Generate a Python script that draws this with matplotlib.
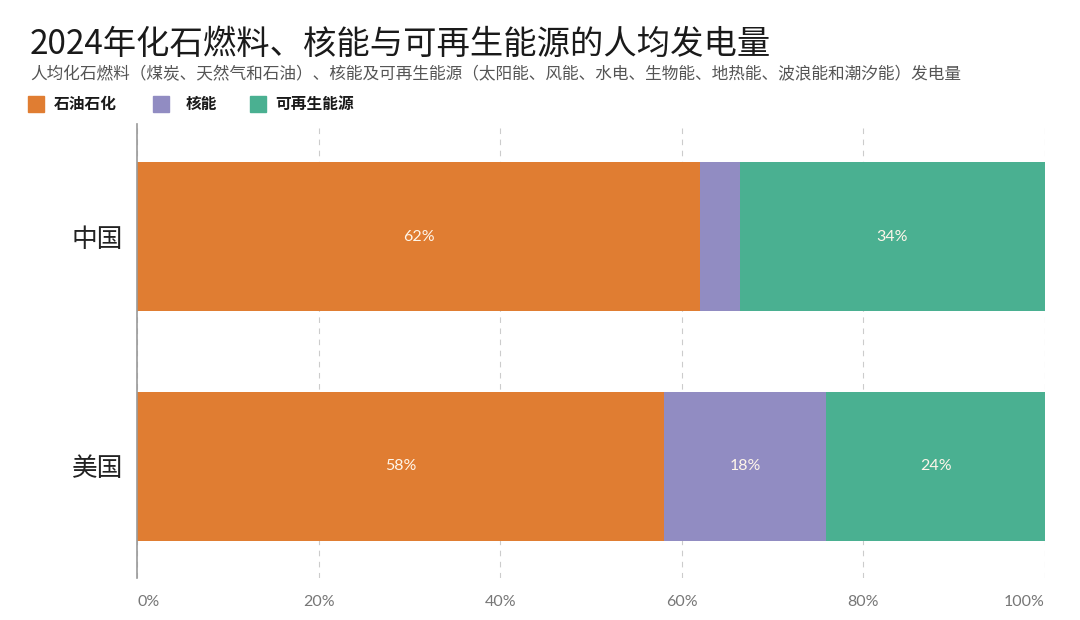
import matplotlib
matplotlib.use("Agg")
import matplotlib.pyplot as plt
from matplotlib.patches import Rectangle
from matplotlib.ticker import PercentFormatter

plt.rcParams['font.family'] = ['Noto Sans CJK SC', 'DejaVu Sans']

countries = ["美国", "中国"]
fossil = [58.0, 62.0]
nuclear = [17.9, 4.4]
renewable = [24.1, 33.6]
fossil_labels = ["58%", "62%"]
nuclear_labels = ["18%", ""]
renewable_labels = ["24%", "34%"]
series_names = ["石油石化", "核能", "可再生能源"]
colors = ["#E07D32", "#918CC2", "#4AB091"]
xticks = [0, 20, 40, 60, 80, 100]

fig = plt.figure(figsize=(10.8, 6.2), dpi=100)
ax = fig.add_axes([137/1080, 1-578/620, (1045-137)/1080, (578-124)/620])

ypos = list(range(len(countries)))
h = 0.65
b1 = ax.barh(ypos, fossil, height=h, color=colors[0], zorder=2)
b2 = ax.barh(ypos, nuclear, left=fossil, height=h, color=colors[1], zorder=2)
left3 = [f + n for f, n in zip(fossil, nuclear)]
b3 = ax.barh(ypos, renewable, left=left3, height=h, color=colors[2], zorder=2)

for bars, labs in ((b1, fossil_labels), (b2, nuclear_labels), (b3, renewable_labels)):
    ax.bar_label(bars, labels=labs, label_type='center', color='#FFF6EA',
                 fontsize=11.5, family=['Lato', 'DejaVu Sans'])

ax.set_xlim(0, 100)
ax.set_ylim(-0.487, 1.491)
ax.set_yticks(ypos)
ax.set_yticklabels(countries, fontsize=18.5, color='#222222')
ax.set_xticks(xticks)
ax.xaxis.set_major_formatter(PercentFormatter(decimals=0))
fig.canvas.draw()
xlabs = ax.get_xticklabels()
for lab in xlabs:
    lab.set_family(['Lato', 'DejaVu Sans'])
    lab.set_fontsize(11.5)
    lab.set_color('#777777')
xlabs[0].set_horizontalalignment('left')
xlabs[-1].set_horizontalalignment('right')
ax.tick_params(axis='both', length=0)
ax.tick_params(axis='x', pad=12)
ax.tick_params(axis='y', pad=10)
ax.grid(axis='x', color='#CCCCCC', linestyle=(0, (5, 5)), linewidth=0.8, zorder=0)
for s in ['top', 'right', 'bottom']:
    ax.spines[s].set_visible(False)
ax.spines['left'].set_color('#999999')
ax.spines['left'].set_linewidth(1.2)

fig.text(30/1080, 1-44/620, "2024年化石燃料、核能与可再生能源的人均发电量",
         fontsize=24, color='#1a1a1a', va='center', ha='left', fontweight='light')
fig.text(30/1080, 1-75/620,
         "人均化石燃料（煤炭、天然气和石油）、核能及可再生能源（太阳能、风能、水电、生物能、地热能、波浪能和潮汐能）发电量",
         fontsize=12, color='#555555', va='center', ha='left')

leg_x = [28, 153, 250]
txt_x = [54, 186, 275]
for c, name, hx, tx in zip(colors, series_names, leg_x, txt_x):
    fig.add_artist(Rectangle((hx/1080, 1-112/620), 16/1080, 16/620,
                             transform=fig.transFigure, color=c))
    fig.text(tx/1080, 1-104/620, name, fontsize=11.3, fontweight='bold',
             color='#1a1a1a', va='center', ha='left')

fig.savefig("out.png", dpi=100)
